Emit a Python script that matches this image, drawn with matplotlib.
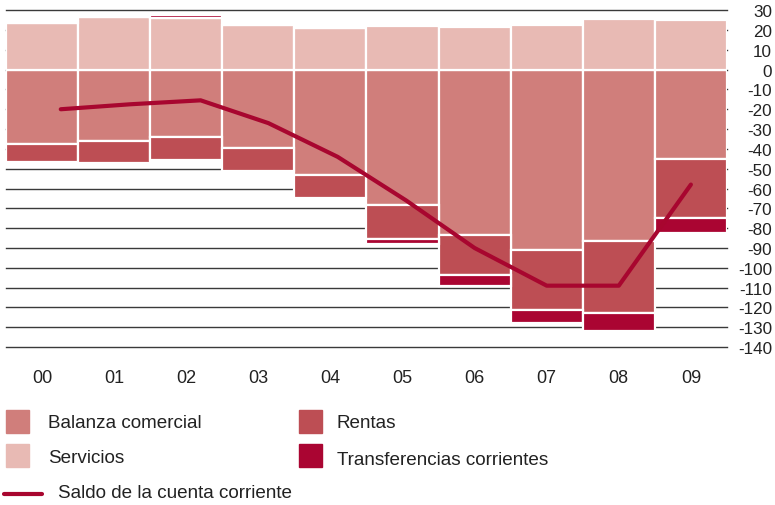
import matplotlib.pyplot as plt
from matplotlib.lines import Line2D
import numpy as np

# ---------------- data ----------------
years = ['00', '01', '02', '03', '04', '05', '06', '07', '08', '09']
balanza = [-37.3, -35.8, -33.9, -39.3, -53.3, -68.3, -83.4, -91.2, -86.5, -44.9]
servicios = [23.5, 26.5, 26.0, 22.6, 21.0, 21.8, 21.6, 22.6, 25.5, 25.0]
rentas = [-9.3, -11.1, -11.5, -11.8, -11.7, -17.3, -20.4, -29.9, -36.1, -30.1]
transfer = [0.8, 1.2, 1.6, 0.0, 0.0, -2.6, -5.6, -6.6, -9.2, -7.2]
saldo = [-20.0, -17.5, -15.5, -27.0, -44.0, -66.0, -90.0, -109.0, -109.0, -58.0]
saldo_pos = [0.26, 1.22, 2.2, 3.14, 4.1, 5.05, 6.0, 7.0, 8.0, 9.0]

c_bal = '#d07e7b'
c_serv = '#e8bab4'
c_rent = '#bd4e54'
c_trans = '#aa0532'
c_line = '#a8062f'

plt.rcParams['font.family'] = ['Liberation Sans', 'DejaVu Sans']
plt.rcParams['axes.unicode_minus'] = False

fig = plt.figure(figsize=(7.75, 5.06), dpi=100)
ax = fig.add_axes([0.0077, 0.312, 0.9303, 0.666])

x = np.arange(len(years))
bal = np.array(balanza)
serv = np.array(servicios)
ren = np.array(rentas)
tr = np.array(transfer)

# stacks: positives go up from 0, negatives go down
bottom_pos = np.zeros(len(x))
bottom_neg = np.zeros(len(x))
for vals, col in [(bal, c_bal), (serv, c_serv), (ren, c_rent), (tr, c_trans)]:
    base = np.where(vals >= 0, bottom_pos, bottom_neg)
    ax.bar(x, vals, width=1.0, bottom=base, color=col, edgecolor='white',
           linewidth=1.6, zorder=2)
    bottom_pos = bottom_pos + np.where(vals >= 0, vals, 0)
    bottom_neg = bottom_neg + np.where(vals < 0, vals, 0)

ax.plot(saldo_pos, saldo, color=c_line, lw=3, solid_capstyle='round', zorder=3)

ax.set_xlim(-0.5, 9.5)
ax.set_ylim(-140, 30)
ax.set_yticks(np.arange(-140, 31, 10))
ax.yaxis.tick_right()
ax.tick_params(axis='y', length=0, labelsize=12.3, pad=32.4, labelcolor='#222222')
for lab in ax.get_yticklabels():
    lab.set_horizontalalignment('right')
ax.set_xticks(x)
ax.set_xticklabels(years)
ax.tick_params(axis='x', length=0, labelsize=13, pad=16, labelcolor='#222222')
ax.grid(axis='y', color='#3a3a3a', lw=1.0, zorder=0)
for gl in ax.get_ygridlines():
    gl.set_clip_on(False)
ax.set_axisbelow(True)
for s in ax.spines.values():
    s.set_visible(False)

# legend drawn by hand
fs = 13.6
def box(px, py, col):
    fig.patches.append(plt.Rectangle((px / 775, 1 - (py + 23) / 506), 23 / 775, 23 / 506,
                                     transform=fig.transFigure, color=col))
box(6, 411, c_bal)
box(6, 445, c_serv)
box(299, 411, c_rent)
box(299, 445, c_trans)
fig.text(48 / 775, 1 - 424 / 506, 'Balanza comercial', fontsize=fs, va='center', color='#222222')
fig.text(48 / 775, 1 - 459 / 506, 'Servicios', fontsize=fs, va='center', color='#222222')
fig.text(337 / 775, 1 - 424 / 506, 'Rentas', fontsize=fs, va='center', color='#222222')
fig.text(337 / 775, 1 - 461 / 506, 'Transferencias corrientes', fontsize=fs, va='center', color='#222222')
fig.lines.append(Line2D([4 / 775, 42 / 775], [1 - 495 / 506, 1 - 495 / 506],
                        transform=fig.transFigure, color=c_line, lw=3, solid_capstyle='round'))
fig.text(58 / 775, 1 - 494 / 506, 'Saldo de la cuenta corriente', fontsize=fs, va='center', color='#222222')

fig.savefig('out.png', dpi=100)
